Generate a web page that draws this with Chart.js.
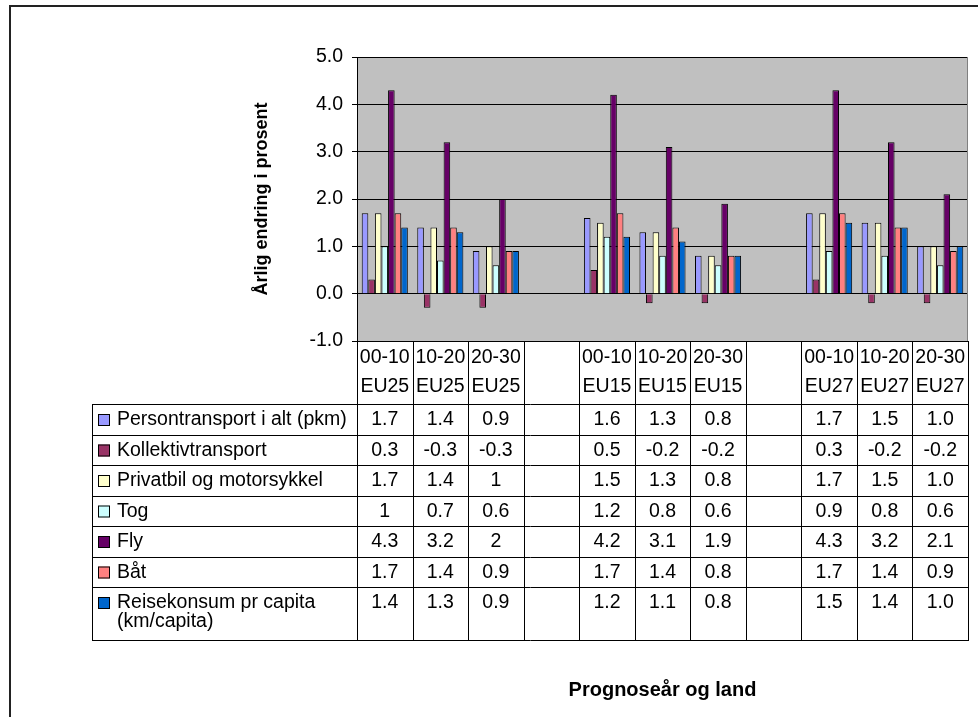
<!DOCTYPE html>
<html>
<head>
<meta charset="utf-8">
<title>Årlig endring i prosent</title>
<script src="https://cdn.jsdelivr.net/npm/chart.js@4.4.1/dist/chart.umd.min.js"></script>
<style>
  html, body { margin: 0; padding: 0; background: #fff; }
  canvas { display: block; }
</style>
</head>
<body>
<canvas id="chart" width="978" height="717"></canvas>
<script>
// kategorier (prognoseår og land)
const periods = ['00-10', '10-20', '20-30', '', '00-10', '10-20', '20-30', '', '00-10', '10-20', '20-30'];
const regions = ['EU25', 'EU25', 'EU25', '', 'EU15', 'EU15', 'EU15', '', 'EU27', 'EU27', 'EU27'];

// verdier slik de står i tabellen
const personTransport = ['1.7', '1.4', '0.9', null, '1.6', '1.3', '0.8', null, '1.7', '1.5', '1.0'];
const kollektiv = ['0.3', '-0.3', '-0.3', null, '0.5', '-0.2', '-0.2', null, '0.3', '-0.2', '-0.2'];
const privatbil = ['1.7', '1.4', '1', null, '1.5', '1.3', '0.8', null, '1.7', '1.5', '1.0'];
const tog = ['1', '0.7', '0.6', null, '1.2', '0.8', '0.6', null, '0.9', '0.8', '0.6'];
const fly = ['4.3', '3.2', '2', null, '4.2', '3.1', '1.9', null, '4.3', '3.2', '2.1'];
const baat = ['1.7', '1.4', '0.9', null, '1.7', '1.4', '0.8', null, '1.7', '1.4', '0.9'];
const reisekonsum = ['1.4', '1.3', '0.9', null, '1.2', '1.1', '0.8', null, '1.5', '1.4', '1.0'];

const seriesNames = [
  'Persontransport i alt (pkm)',
  'Kollektivtransport',
  'Privatbil og motorsykkel',
  'Tog',
  'Fly',
  'Båt',
  'Reisekonsum pr capita (km/capita)'
];
const seriesData = [personTransport, kollektiv, privatbil, tog, fly, baat, reisekonsum];
const seriesColors = ['#9999FF', '#993366', '#FFFFCC', '#CCFFFF', '#660066', '#FF8080', '#0066CC'];

const FONT = "'Liberation Sans', Arial, sans-serif";
Chart.defaults.font.family = FONT;
Chart.defaults.color = '#000';

// tabellmål
const TABLE_LEFT = 92;
const TABLE_TOP = 404;
const ROW_H = 30.5;
const LAST_ROW_H = 53;
const LINE_H = 19;

function wrapText(ctx, text, maxWidth) {
  const words = text.split(' ');
  const lines = [];
  let line = '';
  words.forEach((word) => {
    const test = line ? line + ' ' + word : word;
    if (ctx.measureText(test).width > maxWidth && line) {
      lines.push(line);
      line = word;
    } else {
      line = test;
    }
  });
  lines.push(line);
  return lines;
}

// grå bakgrunn i plottområdet
const plotBackground = {
  id: 'plotBackground',
  beforeDraw(chart) {
    const { ctx, chartArea: a } = chart;
    ctx.save();
    ctx.fillStyle = '#fff';
    ctx.fillRect(0, 0, chart.width, chart.height);
    ctx.fillStyle = '#C0C0C0';
    ctx.fillRect(a.left, a.top, a.right - a.left, a.bottom - a.top);
    ctx.restore();
  }
};

// datatabell under diagrammet
const dataTable = {
  id: 'dataTable',
  afterDraw(chart) {
    const { ctx, chartArea: a } = chart;
    const n = periods.length;
    const w = (a.right - a.left) / n;
    const tableBottom = TABLE_TOP + ROW_H * (seriesNames.length - 1) + LAST_ROW_H;

    ctx.save();

    // høyre kant av plottområdet
    ctx.strokeStyle = '#808080';
    ctx.lineWidth = 1;
    ctx.beginPath();
    ctx.moveTo(Math.round(a.right) - 0.5, a.top);
    ctx.lineTo(Math.round(a.right) - 0.5, a.bottom);
    ctx.stroke();

    ctx.strokeStyle = '#000';
    ctx.beginPath();
    // loddrette linjer
    for (let i = 0; i <= n; i++) {
      const x = Math.round(a.left + i * w) + 0.5;
      ctx.moveTo(x, a.bottom);
      ctx.lineTo(x, tableBottom);
    }
    ctx.moveTo(TABLE_LEFT + 0.5, TABLE_TOP);
    ctx.lineTo(TABLE_LEFT + 0.5, tableBottom);
    // vannrette linjer
    let y = TABLE_TOP;
    for (let r = 0; r <= seriesNames.length; r++) {
      const yy = Math.round(y) + 0.5;
      ctx.moveTo(TABLE_LEFT, yy);
      ctx.lineTo(Math.round(a.right) + 1, yy);
      y += (r === seriesNames.length - 1) ? LAST_ROW_H : ROW_H;
    }
    ctx.stroke();

    ctx.font = '19.5px ' + FONT;
    ctx.fillStyle = '#000';
    ctx.textBaseline = 'middle';

    // kolonneoverskrifter
    ctx.textAlign = 'center';
    for (let i = 0; i < n; i++) {
      const cx = chart.scales.x.getPixelForValue(i);
      ctx.fillText(periods[i], cx, 358);
      ctx.fillText(regions[i], cx, 387);
    }

    // rader: forklaring + verdier
    seriesNames.forEach((name, r) => {
      const rowY = TABLE_TOP + r * ROW_H + 16;
      ctx.fillStyle = seriesColors[r];
      ctx.fillRect(98, rowY - 6, 12, 12);
      ctx.strokeStyle = '#000';
      ctx.strokeRect(98.5, rowY - 5.5, 11, 11);

      ctx.fillStyle = '#000';
      ctx.textAlign = 'left';
      const lines = wrapText(ctx, name, 240);
      lines.forEach((line, k) => ctx.fillText(line, 117, rowY + k * LINE_H));

      ctx.textAlign = 'center';
      seriesData[r].forEach((v, i) => {
        if (v === null) return;
        ctx.fillText(v, chart.scales.x.getPixelForValue(i), rowY);
      });
    });

    // x-aksetittel
    ctx.font = 'bold 20px ' + FONT;
    ctx.textAlign = 'center';
    ctx.fillText('Prognoseår og land', (a.left + a.right) / 2, 690);

    // ytre ramme
    ctx.strokeStyle = '#222';
    ctx.lineWidth = 2;
    ctx.strokeRect(10, 6, 1200, 1200);

    ctx.restore();
  }
};

new Chart(document.getElementById('chart'), {
  type: 'bar',
  data: {
    labels: periods.map((p, i) => [p, regions[i]]),
    datasets: seriesNames.map((name, i) => ({
      label: name,
      data: seriesData[i],
      backgroundColor: seriesColors[i],
      borderColor: '#000',
      borderWidth: 1,
      categoryPercentage: 0.83,
      barPercentage: 1.0
    }))
  },
  options: {
    responsive: false,
    animation: false,
    layout: {
      padding: { left: 251, top: 57, right: 10, bottom: 376 }
    },
    plugins: {
      legend: { display: false },
      tooltip: { enabled: false }
    },
    scales: {
      x: {
        display: false
      },
      y: {
        min: -1,
        max: 5,
        ticks: {
          stepSize: 1,
          padding: 9,
          font: { size: 19.5 },
          color: '#000',
          callback: (v) => v.toFixed(1)
        },
        grid: {
          color: '#000',
          lineWidth: 1,
          tickLength: 5
        },
        border: { color: '#000', width: 1 },
        title: {
          display: true,
          text: 'Årlig endring i prosent',
          font: { size: 18, weight: 'bold' },
          color: '#000',
          padding: 0
        },
        afterFit(scale) {
          scale.width = 106;
        }
      }
    }
  },
  plugins: [plotBackground, dataTable]
});
</script>
</body>
</html>
